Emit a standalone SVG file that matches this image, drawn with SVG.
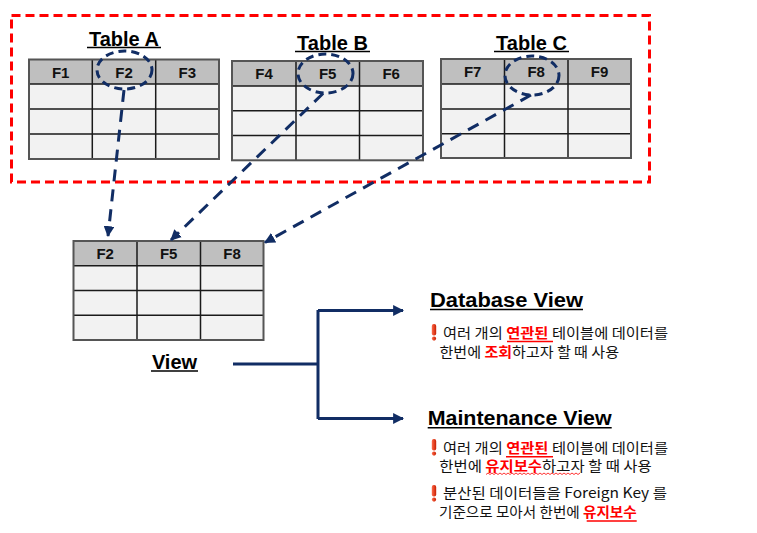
<svg xmlns="http://www.w3.org/2000/svg" width="757" height="533" viewBox="0 0 757 533">
<defs>
<style>
.hdr{fill:#bfbfbf}
.body{fill:#f2f2f2}
.grid{stroke:#1a1a1a;stroke-width:1.5;fill:none}
.outer{stroke:#555;stroke-width:2;fill:none}
.fl{font-family:"Liberation Sans",Arial,sans-serif;font-weight:bold;font-size:15px;fill:#111;text-anchor:middle}
.title{font-family:"Liberation Sans",Arial,sans-serif;font-weight:bold;font-size:20px;fill:#000;text-anchor:middle}
.big{font-family:"Liberation Sans",Arial,sans-serif;font-weight:bold;font-size:20px;fill:#000}
.ul{stroke:#000;stroke-width:1.5}
.kr{font-family:"Noto Sans CJK KR","Noto Sans",sans-serif;font-size:14px;fill:#111}
.red{fill:#ff0000;font-weight:bold}
.rul{stroke:#ff0000;stroke-width:1.5}
.dash{stroke:#112d64;stroke-width:3;fill:none;stroke-dasharray:12 8}
.ell{stroke:#112d64;stroke-width:3;fill:none;stroke-dasharray:8 5}
.conn{stroke:#112d64;stroke-width:3;fill:none}
</style>
<marker id="ah" viewBox="0 0 10 10" refX="9" refY="5" markerWidth="11" markerHeight="11" markerUnits="userSpaceOnUse" orient="auto">
<path d="M0,0 L10,5 L0,10 z" fill="#112d64"/>
</marker>
<linearGradient id="exg" x1="0" y1="0" x2="1" y2="0">
<stop offset="0" stop-color="#ff6a4a"/>
<stop offset="1" stop-color="#c81e00"/>
</linearGradient>
<g id="excl">
<rect x="-2.2" y="0" width="4.4" height="11.5" rx="2" fill="url(#exg)"/>
<circle cx="0" cy="14.6" r="2.1" fill="url(#exg)"/>
</g>
</defs>
<rect width="757" height="533" fill="#fff"/>

<rect x="11.5" y="15.5" width="638" height="166.5" fill="none" stroke="#ff0000" stroke-width="3" stroke-dasharray="9 5"/>

<g id="tableA">
<text class="title" x="124" y="46">Table A</text>
<line class="ul" x1="87" y1="47.5" x2="161" y2="47.5"/>
<rect class="hdr" x="29" y="59.5" width="190" height="24.5"/>
<rect class="body" x="29" y="84" width="190" height="75"/>
<path class="grid" d="M29,84H219M29,109H219M29,134H219M92.3,59.5V159M155.7,59.5V159"/>
<rect class="outer" x="29" y="59.5" width="190" height="99.5"/>
<text class="fl" x="60.7" y="77.5">F1</text>
<text class="fl" x="124" y="77.5">F2</text>
<text class="fl" x="187.3" y="77.5">F3</text>
</g>

<g id="tableB">
<text class="title" x="332.5" y="50">Table B</text>
<line class="ul" x1="295" y1="51.5" x2="370" y2="51.5"/>
<rect class="hdr" x="232" y="61" width="191" height="25"/>
<rect class="body" x="232" y="86" width="191" height="74.3"/>
<path class="grid" d="M232,86H423M232,110.7H423M232,135.5H423M296,61V160.3M359.5,61V160.3"/>
<rect class="outer" x="232" y="61" width="191" height="99.3"/>
<text class="fl" x="264" y="79">F4</text>
<text class="fl" x="327.7" y="79">F5</text>
<text class="fl" x="391.2" y="79">F6</text>
</g>

<g id="tableC">
<text class="title" x="531.5" y="50">Table C</text>
<line class="ul" x1="494" y1="51.5" x2="569" y2="51.5"/>
<rect class="hdr" x="441" y="59" width="190" height="25"/>
<rect class="body" x="441" y="84" width="190" height="74"/>
<path class="grid" d="M441,84H631M441,109H631M441,133.7H631M504.5,59V158M568,59V158"/>
<rect class="outer" x="441" y="59" width="190" height="99"/>
<text class="fl" x="472.7" y="77">F7</text>
<text class="fl" x="536.2" y="77">F8</text>
<text class="fl" x="599.5" y="77">F9</text>
</g>

<g id="view">
<rect class="hdr" x="73.5" y="241" width="190" height="24.7"/>
<rect class="body" x="73.5" y="265.7" width="190" height="74.3"/>
<path class="grid" d="M73.5,265.7H263.5M73.5,290.5H263.5M73.5,315.3H263.5M137,241V340M200.5,241V340"/>
<rect class="outer" x="73.5" y="241" width="190" height="99"/>
<text class="fl" x="105.2" y="259">F2</text>
<text class="fl" x="168.7" y="259">F5</text>
<text class="fl" x="232" y="259">F8</text>
<text class="title" x="174.5" y="369">View</text>
<line class="ul" x1="151" y1="371" x2="198" y2="371"/>
</g>

<g id="dbview">
<text class="big" x="430" y="307" textLength="153" lengthAdjust="spacingAndGlyphs">Database View</text>
<line class="ul" x1="430" y1="309.5" x2="583" y2="309.5"/>
<use href="#excl" x="434" y="324"/>
<text class="kr" x="443" y="338.3" textLength="225" lengthAdjust="spacingAndGlyphs">여러 개의 <tspan class="red">연관된</tspan> 테이블에 데이터를</text>
<line class="rul" x1="507" y1="341.5" x2="553" y2="341.5"/>
<text class="kr" x="439.5" y="356.7" textLength="179.5" lengthAdjust="spacingAndGlyphs">한번에 <tspan class="red">조회</tspan>하고자 할 때 사용</text>
</g>

<g id="mview">
<text class="big" x="427.7" y="425" textLength="184" lengthAdjust="spacingAndGlyphs">Maintenance View</text>
<line class="ul" x1="427.7" y1="427.7" x2="611.7" y2="427.7"/>
<use href="#excl" x="434" y="439"/>
<text class="kr" x="443" y="453.3" textLength="225" lengthAdjust="spacingAndGlyphs">여러 개의 <tspan class="red">연관된</tspan> 테이블에 데이터를</text>
<line class="rul" x1="506" y1="456.7" x2="553" y2="456.7"/>
<text class="kr" x="439.3" y="471" textLength="212.4" lengthAdjust="spacingAndGlyphs">한번에 <tspan class="red">유지보수</tspan>하고자 할 때 사용</text>
<path d="M486,474.5 l2,-1.5 l2,1.5 l2,-1.5 l2,1.5 l2,-1.5 l2,1.5 l2,-1.5 l2,1.5 l2,-1.5 l2,1.5 l2,-1.5 l2,1.5 l2,-1.5 l2,1.5 l2,-1.5 l2,1.5 l2,-1.5 l2,1.5 l2,-1.5 l2,1.5 l2,-1.5 l2,1.5 l2,-1.5 l2,1.5 l2,-1.5 l2,1.5 l2,-1.5 l2,1.5 l2,-1.5 l2,1.5 l2,-1.5 l2,1.5 l2,-1.5 l2,1.5 l2,-1.5 l2,1.5 l2,-1.5 l2,1.5 l2,-1.5 l2,1.5 l2,-1.5 l2,1.5 l2,-1.5 l2,1.5 l2,-1.5 l2,1.5 l2,-1.5" fill="none" stroke="#ff0000" stroke-width="0.8"/>
<use href="#excl" x="434" y="485"/>
<text class="kr" x="443" y="498.3" textLength="224" lengthAdjust="spacingAndGlyphs">분산된 데이터들을 Foreign Key 를</text>
<text class="kr" x="439" y="516.7" textLength="197.7" lengthAdjust="spacingAndGlyphs">기준으로 모아서 한번에 <tspan class="red">유지보수</tspan></text>
<line class="rul" x1="586.7" y1="521" x2="636.7" y2="521"/>
</g>

<g id="highlights">
<ellipse class="ell" cx="124.5" cy="70" rx="27.5" ry="19"/>
<ellipse class="ell" cx="325.5" cy="73.5" rx="27.5" ry="19.5"/>
<ellipse class="ell" cx="532" cy="75.5" rx="27" ry="19.5"/>
</g>

<g id="connectors">
<line class="dash" x1="124" y1="90" x2="108" y2="236" marker-end="url(#ah)"/>
<line class="dash" x1="323" y1="93.5" x2="171" y2="240" marker-end="url(#ah)"/>
<line class="dash" x1="531" y1="95" x2="265" y2="242.5" marker-end="url(#ah)"/>
<path class="conn" d="M233,364H318M318,310V419"/>
<line class="conn" x1="318" y1="310.5" x2="403" y2="310.5" marker-end="url(#ah)"/>
<line class="conn" x1="318" y1="418.5" x2="403" y2="418.5" marker-end="url(#ah)"/>
</g>
</svg>
